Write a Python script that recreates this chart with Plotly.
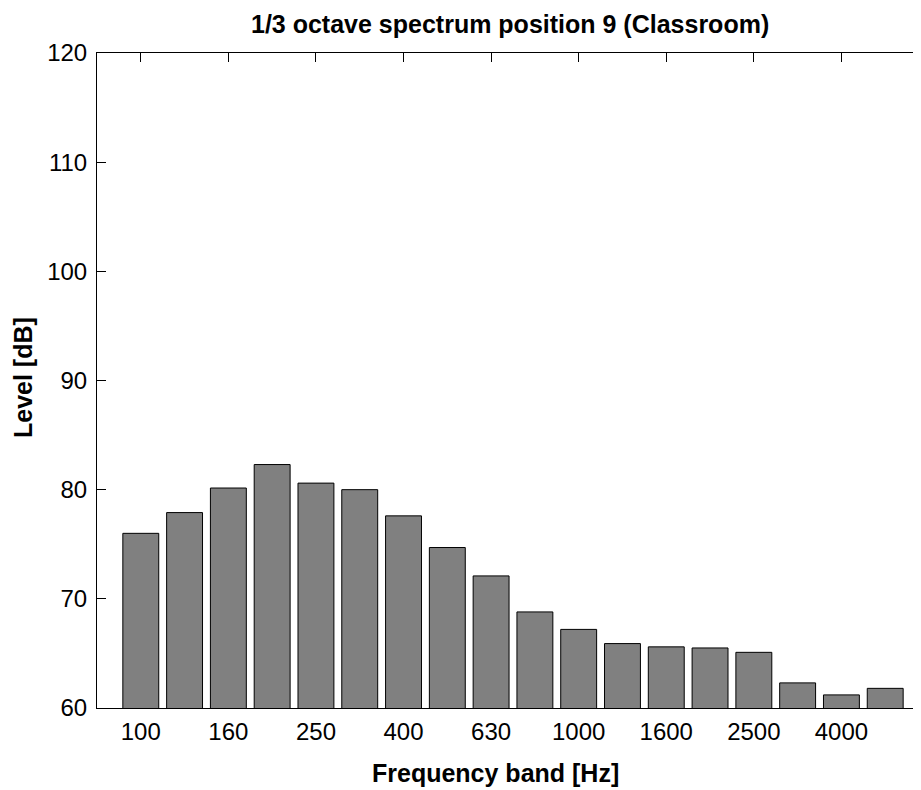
import plotly.graph_objects as go

bands = ["100", "125", "160", "200", "250", "315", "400", "500", "630", "800",
         "1000", "1250", "1600", "2000", "2500", "3150", "4000", "5000"]
levels = [76.0, 77.9, 80.15, 82.3, 80.6, 80.0, 77.6, 74.7, 72.1, 68.8,
          67.2, 65.9, 65.6, 65.5, 65.1, 62.3, 61.2, 61.8]
positions = list(range(1, len(bands) + 1))
tick_positions = positions[::2]
tick_labels = bands[::2]
y_ticks = [60, 70, 80, 90, 100, 110, 120]

FONT = "Liberation Sans, Arial, sans-serif"

W, H = 921, 790
OFF = 8  # page body margin
pl, pr, pt, pb = 89, 0, 45, 90
pw, ph = W - pl - pr, H - pt - pb


def px_to_paper(x, y):
    # x, y in screenshot pixels
    return (x - OFF - pl) / pw, (H - pb - (y - OFF)) / ph


fig = go.Figure()
fig.add_trace(go.Bar(
    x=positions, y=levels, width=0.82,
    marker=dict(color="#808080", line=dict(color="black", width=1)),
    showlegend=False,
))

fig.update_layout(
    width=W, height=H,
    margin=dict(l=pl, r=pr, t=pt, b=pb),
    plot_bgcolor="white", paper_bgcolor="white",
    xaxis=dict(
        range=[0, 19], tickvals=tick_positions, ticktext=tick_labels,
        ticks="inside", ticklen=9, tickcolor="black", tickwidth=1,
        showline=True, linecolor="black", linewidth=1, mirror="ticks",
        showgrid=False, zeroline=False, layer="below traces",
        ticklabelstandoff=2,
        tickfont=dict(family=FONT, size=24, color="black"),
    ),
    yaxis=dict(
        range=[60, 120], tickvals=y_ticks,
        ticks="inside", ticklen=9, tickcolor="black", tickwidth=1,
        showline=True, linecolor="black", linewidth=1, mirror="ticks",
        showgrid=False, zeroline=False, ticklabelstandoff=4,
        tickfont=dict(family=FONT, size=24, color="black"),
    ),
)

tx, ty = px_to_paper(510, 24)
lx, ly = px_to_paper(495, 773)
yx, yy = px_to_paper(23, 378)
fig.add_annotation(text="<b>1/3 octave spectrum position 9 (Classroom)</b>",
                   x=tx, y=ty, xref="paper", yref="paper", showarrow=False,
                   xanchor="center", yanchor="middle",
                   font=dict(family=FONT, size=25, color="black"))
fig.add_annotation(text="<b>Frequency band [Hz]</b>",
                   x=lx, y=ly, xref="paper", yref="paper", showarrow=False,
                   xanchor="center", yanchor="middle",
                   font=dict(family=FONT, size=25, color="black"))
fig.add_annotation(text="<b>Level [dB]</b>", textangle=-90,
                   x=yx, y=yy, xref="paper", yref="paper", showarrow=False,
                   xanchor="center", yanchor="middle",
                   font=dict(family=FONT, size=25, color="black"))

fig.write_html("out.html")
